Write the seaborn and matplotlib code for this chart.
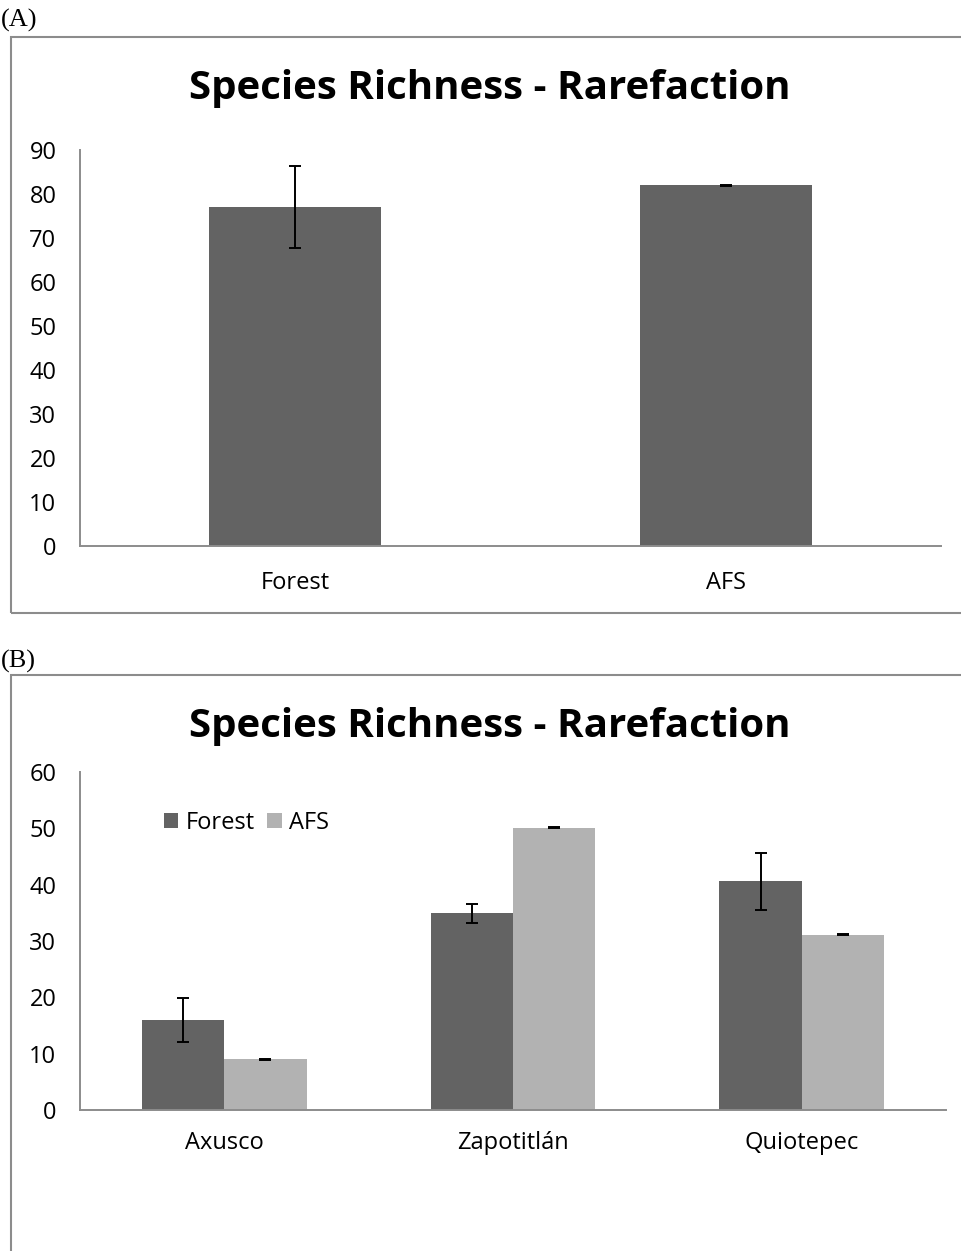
import matplotlib
matplotlib.use("Agg")
import matplotlib.pyplot as plt
import seaborn as sns
import pandas as pd
from matplotlib.patches import Rectangle

# ---------------- data ----------------
systems_a = ["Forest", "AFS"]
richness_a = [77.0, 82.0]
err_a = [9.3, 0.1]

sites_b = ["Axusco", "Zapotitlán", "Quiotepec"]
systems_b = ["Forest", "AFS"]
forest_b = [16.0, 34.9, 40.6]
forest_err_b = [3.85, 1.75, 5.05]
afs_b = [9.0, 50.1, 31.1]
afs_err_b = [0.1, 0.1, 0.1]

title_text = "Species Richness - Rarefaction"
yticks_a = [0, 10, 20, 30, 40, 50, 60, 70, 80, 90]
yticks_b = [0, 10, 20, 30, 40, 50, 60]

# ---------------- style ----------------
sns.set_theme(style="white")
plt.rcParams["font.family"] = ["Open Sans", "DejaVu Sans"]
plt.rcParams["text.color"] = "black"

DARK = "#636363"
LIGHT = "#b2b2b2"
AXIS = "#8c8c8c"
FRAME = "#8c8c8c"

fig = plt.figure(figsize=(9.61, 12.51), dpi=100)
W, H = 961.0, 1251.0


def fx(px):
    return px / W


def fy(py):
    return 1 - py / H


def style_axes(ax, yticks, ymax, xpad):
    ax.set_ylim(0, ymax)
    ax.set_yticks(yticks)
    ax.set_xlabel("")
    ax.set_ylabel("")
    for s in ["top", "right"]:
        ax.spines[s].set_visible(False)
    for s in ["left", "bottom"]:
        ax.spines[s].set_color(AXIS)
        ax.spines[s].set_linewidth(1.4)
    ax.tick_params(axis="y", length=0, pad=17, labelsize=17, colors="black")
    ax.tick_params(axis="x", length=0, pad=xpad, labelsize=17, colors="black")
    ax.set_facecolor("white")


# ---------------- panel A ----------------
axA = fig.add_axes([fx(80), fy(546), fx(941) - fx(80), fy(150) - fy(546)])
dfA = pd.DataFrame({"system": systems_a, "richness": richness_a})
sns.barplot(data=dfA, x="system", y="richness", color=DARK, saturation=1,
            width=0.4, errorbar=None, linewidth=0, ax=axA)
for bar, e in zip(axA.containers[0], err_a):
    axA.errorbar(bar.get_x() + bar.get_width() / 2, bar.get_height(), yerr=e,
                 fmt="none", ecolor="black", elinewidth=1.4, capsize=4.3,
                 capthick=1.4, zorder=5)
axA.set_xlim(-0.5, 1.5)
style_axes(axA, yticks_a, 90, 18)
fig.text(fx(490), fy(88), title_text, fontsize=29, fontweight="bold",
         ha="center", va="center", color="black")

fig.patches.append(Rectangle((fx(11), fy(613)), fx(990) - fx(11), fy(37) - fy(613),
                             transform=fig.transFigure, fill=False,
                             edgecolor=FRAME, linewidth=1.5))
fig.text(fx(1), fy(20), "(A)", family="Liberation Serif", fontsize=19,
         va="center", ha="left", color="black")

# ---------------- panel B ----------------
axB = fig.add_axes([fx(80), fy(1110), fx(946) - fx(80), fy(772) - fy(1110)])
dfB = pd.DataFrame({
    "site": sites_b * 2,
    "system": [systems_b[0]] * len(sites_b) + [systems_b[1]] * len(sites_b),
    "richness": forest_b + afs_b,
})
sns.barplot(data=dfB, x="site", y="richness", hue="system", hue_order=systems_b,
            palette=[DARK, LIGHT], saturation=1, width=0.57, errorbar=None,
            linewidth=0, ax=axB)
for cont, errs in zip(axB.containers, [forest_err_b, afs_err_b]):
    for bar, e in zip(cont, errs):
        axB.errorbar(bar.get_x() + bar.get_width() / 2, bar.get_height(), yerr=e,
                     fmt="none", ecolor="black", elinewidth=1.4, capsize=4.3,
                     capthick=1.4, zorder=5)
axB.set_xlim(-0.5, 2.5)
style_axes(axB, yticks_b, 60, 15)
fig.text(fx(490), fy(727), title_text, fontsize=29, fontweight="bold",
         ha="center", va="center", color="black")
leg = axB.legend(loc="center left", bbox_to_anchor=(0.097, 0.85), ncol=2,
                 frameon=False, fontsize=17, handlelength=0.6, handleheight=0.6,
                 handletextpad=0.3, columnspacing=0.55, borderpad=0,
                 borderaxespad=0)
for t in leg.get_texts():
    t.set_color("black")

fig.patches.append(Rectangle((fx(11), fy(1300)), fx(990) - fx(11), fy(675) - fy(1300),
                             transform=fig.transFigure, fill=False,
                             edgecolor=FRAME, linewidth=1.5))
fig.text(fx(1), fy(661), "(B)", family="Liberation Serif", fontsize=19,
         va="center", ha="left", color="black")

fig.savefig("out.png", dpi=100, facecolor="white")
